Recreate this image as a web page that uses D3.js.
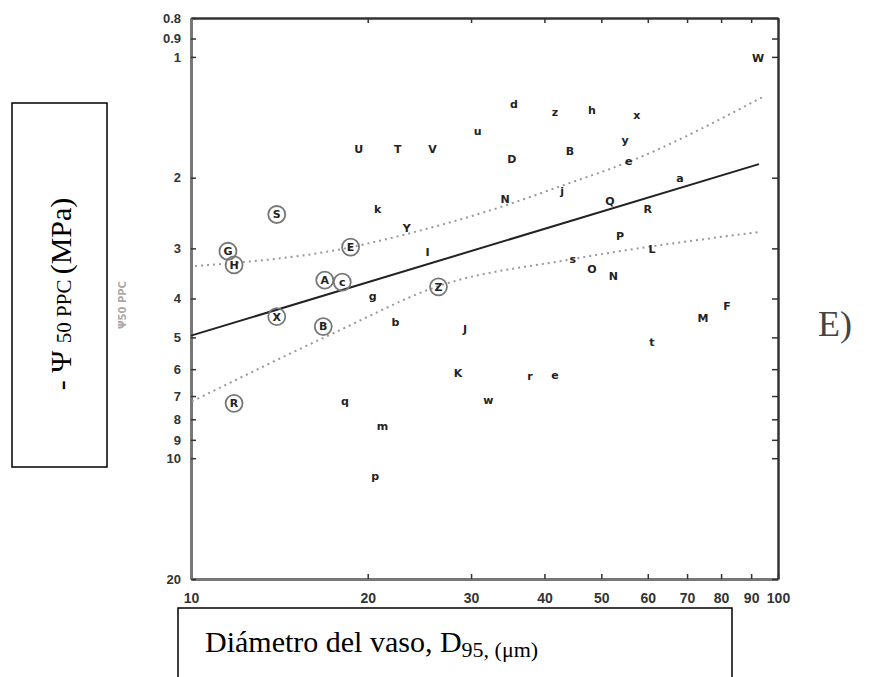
<!DOCTYPE html>
<html>
<head>
<meta charset="utf-8">
<script src="https://cdn.jsdelivr.net/npm/d3@7"></script>
<style>
body { margin: 0; background: #fff; }
.tick text { font-family: "Liberation Sans", Arial, sans-serif; font-weight: bold; fill: #333; }
.pt { font-family: "DejaVu Sans", sans-serif; font-weight: bold; fill: #222; }
</style>
</head>
<body>
<div id="chart"></div>
<script>
// species codes, vessel diameter D95 (um), -psi50 (MPa), circled or not
var species = ["W","d","z","h","x","u","U","T","V","D","B","y","e","a","N","j","Q","R",
  "S","k","Y","G","H","E","I","P","L","s","O","N","Z","A","c","g","X","b","B","J",
  "t","M","F","K","r","e","w","R","q","m","p"];
var diam = [92.5,35.5,41.7,48.2,57.5,30.8,19.3,22.5,25.8,35.2,44.2,54.9,55.7,68.1,34.3,42.9,51.7,60.0,
  14.0,20.8,23.3,11.56,11.84,18.7,25.3,53.8,61.0,44.7,48.2,52.4,26.4,16.9,18.1,20.4,14.0,22.3,16.8,29.3,
  61.0,74.5,81.9,28.5,37.8,41.7,32.1,11.84,18.3,21.2,20.6];
var psi50 = [1.01,1.31,1.37,1.36,1.40,1.53,1.70,1.70,1.70,1.80,1.72,1.61,1.82,2.00,2.26,2.16,2.29,2.40,
  2.47,2.40,2.67,3.05,3.30,2.98,3.07,2.80,3.01,3.19,3.38,3.52,3.74,3.60,3.64,3.94,4.44,4.57,4.70,4.76,
  5.13,4.49,4.17,6.15,6.26,6.22,7.18,7.30,7.22,8.33,11.08];
var ring = [0,0,0,0,0,0,0,0,0,0,0,0,0,0,0,0,0,0,
  1,0,0,1,1,1,0,0,0,0,0,0,1,1,1,0,1,0,1,0,
  0,0,0,0,0,0,0,1,0,0,0];

// regression line and its confidence band
var fitD = [10, 92.8];
var fitPsi = [4.95, 1.85];
var upperD = [10.16, 18.1, 24.3, 33.6, 43.0, 56.0, 94.0];
var upperPsi = [3.32, 3.01, 2.72, 2.37, 2.09, 1.82, 1.26];
var lowerD = [10.04, 17.7, 26.2, 44.7, 93.1];
var lowerPsi = [7.22, 4.84, 3.74, 3.19, 2.73];

var xTicks = [10, 20, 30, 40, 50, 60, 70, 80, 90, 100];
var yTicks = [0.8, 0.9, 1, 2, 3, 4, 5, 6, 7, 8, 9, 10, 20];

var width = 882,
    height = 677;
var plotL = 191, plotR = 778, plotT = 18, plotB = 579;

var svg = d3.select("#chart")
    .append("svg")
    .attr("width", width)
    .attr("height", height);

var x = d3.scaleLog().domain([10, 100]).range([plotL, plotR]);
var y = d3.scaleLog().domain([0.8, 20]).range([plotT, plotB]);

// axes, ticks pointing inside the frame
var axB = svg.append("g")
    .attr("transform", "translate(0," + plotB + ")")
    .call(d3.axisBottom(x).tickValues(xTicks).tickFormat(d3.format("d"))
      .tickSize(-5).tickSizeOuter(0).tickPadding(14));
axB.selectAll("text").style("font-size", "14px");
axB.select(".domain").attr("stroke", "#777").attr("stroke-width", 3);

var axT = svg.append("g")
    .attr("transform", "translate(0," + plotT + ")")
    .call(d3.axisTop(x).tickValues(xTicks).tickFormat("")
      .tickSize(-5).tickSizeOuter(0));
axT.select(".domain").attr("stroke", "#333").attr("stroke-width", 2.5);

var axL = svg.append("g")
    .attr("transform", "translate(" + plotL + ",0)")
    .call(d3.axisLeft(y).tickValues(yTicks).tickFormat(d3.format("~g"))
      .tickSize(-5).tickSizeOuter(0).tickPadding(10));
axL.selectAll("text").style("font-size", "13px");
axL.select(".domain").attr("stroke", "#777").attr("stroke-width", 3);

var axR = svg.append("g")
    .attr("transform", "translate(" + plotR + ",0)")
    .call(d3.axisRight(y).tickValues(yTicks).tickFormat("")
      .tickSize(-6).tickSizeOuter(0));
axR.select(".domain").attr("stroke", "#333").attr("stroke-width", 2.5);

svg.selectAll(".tick line").attr("stroke", "#333").attr("stroke-width", 1.5);

// fit line + band
var line = d3.line()
    .x(function(d) { return x(d[0]); })
    .y(function(d) { return y(d[1]); })
    .curve(d3.curveMonotoneX);

svg.append("path")
    .datum(d3.zip(upperD, upperPsi))
    .attr("d", line)
    .attr("fill", "none")
    .attr("stroke", "#999")
    .attr("stroke-width", 2)
    .attr("stroke-dasharray", "2,4");
svg.append("path")
    .datum(d3.zip(lowerD, lowerPsi))
    .attr("d", line)
    .attr("fill", "none")
    .attr("stroke", "#999")
    .attr("stroke-width", 2)
    .attr("stroke-dasharray", "2,4");
svg.append("path")
    .datum(d3.zip(fitD, fitPsi))
    .attr("d", line)
    .attr("fill", "none")
    .attr("stroke", "#222")
    .attr("stroke-width", 2);

// points are species letters, some circled
var pts = d3.range(species.length).map(function(i) {
  return {s: species[i], d: diam[i], p: psi50[i], c: ring[i]};
});

svg.append("g")
    .selectAll("circle")
    .data(pts.filter(function(d) { return d.c; }))
    .enter().append("circle")
    .attr("cx", function(d) { return x(d.d); })
    .attr("cy", function(d) { return y(d.p); })
    .attr("r", 8.5)
    .attr("fill", "none")
    .attr("stroke", "#777")
    .attr("stroke-width", 1.8);

svg.append("g")
    .selectAll("text")
    .data(pts)
    .enter().append("text")
    .attr("class", "pt")
    .attr("x", function(d) { return x(d.d); })
    .attr("y", function(d) { return y(d.p); })
    .attr("dy", "0.35em")
    .attr("text-anchor", "middle")
    .style("font-size", "11px")
    .text(function(d) { return d.s; });

// y label box
svg.append("rect")
    .attr("x", 12).attr("y", 103)
    .attr("width", 95).attr("height", 364)
    .attr("fill", "#fff").attr("stroke", "#000").attr("stroke-width", 1.5);
var yl = svg.append("text")
    .attr("transform", "translate(71,294) rotate(-90)")
    .attr("text-anchor", "middle")
    .style("font-family", "'Liberation Serif', 'Times New Roman', serif")
    .style("font-size", "30px");
yl.append("tspan").text("-  \u03A8  ");
yl.append("tspan").style("font-size", "21px").text("50 PPC ");
yl.append("tspan").text("(MPa)");

svg.append("text")
    .attr("transform", "translate(126,305) rotate(-90)")
    .attr("text-anchor", "middle")
    .style("font-family", "'DejaVu Sans', sans-serif")
    .style("font-weight", "bold")
    .style("font-size", "10px")
    .attr("fill", "#aaa")
    .text("\u03A850 PPC");

// x label box
svg.append("rect")
    .attr("x", 178).attr("y", 608)
    .attr("width", 554).attr("height", 100)
    .attr("fill", "#fff").attr("stroke", "#000").attr("stroke-width", 1.5);
var xl = svg.append("text")
    .attr("x", 205).attr("y", 652)
    .style("font-family", "'Liberation Serif', 'Times New Roman', serif")
    .style("font-size", "30px");
xl.append("tspan").text("Di\u00E1metro del vaso, D");
xl.append("tspan").style("font-size", "22px").attr("dy", 5).text("95, (\u03BCm)");

svg.append("text")
    .attr("x", 818).attr("y", 336)
    .style("font-family", "'Liberation Serif', 'Times New Roman', serif")
    .style("font-size", "36px")
    .attr("fill", "#444")
    .text("E)");
</script>
</body>
</html>
